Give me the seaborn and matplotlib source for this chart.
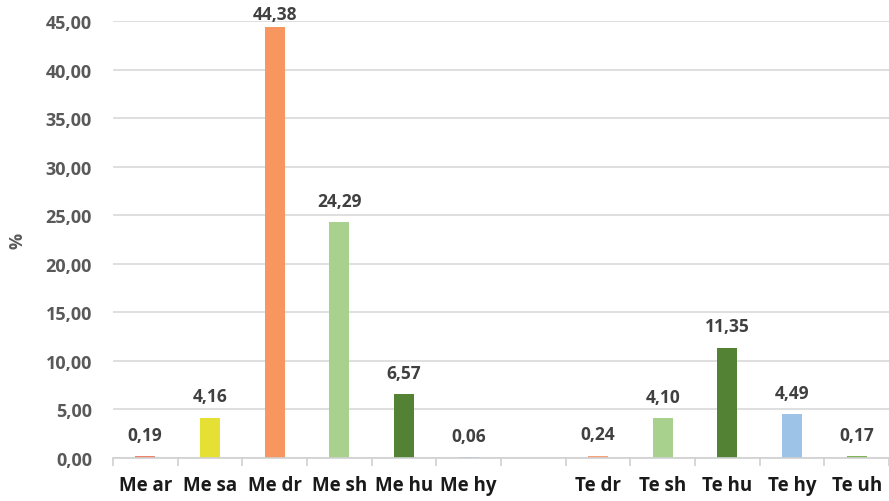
import matplotlib
matplotlib.use("Agg")
import matplotlib.pyplot as plt
from matplotlib.ticker import FuncFormatter, FixedLocator
import seaborn as sns
import pandas as pd

categories = ["Me ar", "Me sa", "Me dr", "Me sh", "Me hu", "Me hy",
              "Te dr", "Te sh", "Te hu", "Te hy", "Te uh"]
values = [0.19, 4.16, 44.38, 24.29, 6.57, 0.06,
          0.24, 4.10, 11.35, 4.49, 0.17]
colors = ["#F2836B", "#E6E034", "#F8965F", "#A9D18E", "#548235", "#8FAADC",
          "#F8A07A", "#A9D18E", "#548235", "#9DC3E6", "#7FB35A"]
# an empty slot separates the two groups
order = categories[:6] + [" "] + categories[6:]

df = pd.DataFrame({"cat": categories, "val": values})

sns.set_theme(style="white")
plt.rcParams["font.family"] = ["Open Sans", "DejaVu Sans"]

fig = plt.figure(figsize=(8.89, 5.02), dpi=100)
ax = fig.add_axes([0.127, 0.0857, 0.873, 0.870])

sns.barplot(data=df, x="cat", y="val", order=order, hue="cat",
            palette=dict(zip(categories, colors)), legend=False,
            width=0.31, saturation=1, linewidth=0, edgecolor="none", ax=ax)

ax.set_ylim(0, 45)
ax.set_xlim(-0.5, len(order) - 0.5)
ax.yaxis.set_major_locator(FixedLocator([i * 5 for i in range(10)]))
ax.yaxis.set_major_formatter(FuncFormatter(lambda v, p: f"{v:.2f}".replace(".", ",")))
ax.grid(axis="y", color="#D9D9D9", linewidth=1.2)
ax.set_axisbelow(True)

for s in ["top", "right", "left"]:
    ax.spines[s].set_visible(False)
ax.spines["bottom"].set_color("#D0D0D0")
ax.spines["bottom"].set_linewidth(1.2)

# category separators below the axis
ax.set_xticks([i - 0.5 for i in range(len(order) + 1)], minor=True)
ax.tick_params(axis="x", which="minor", length=6, color="#D0D0D0", width=1.2, bottom=True)
ax.tick_params(axis="x", which="major", length=0, pad=12)
ax.tick_params(axis="y", length=0, pad=15)

for lab in ax.get_xticklabels():
    lab.set_fontsize(13.5)
    lab.set_fontweight("bold")
    lab.set_color("#1A1A1A")
for lab in ax.get_yticklabels():
    lab.set_fontsize(13)
    lab.set_fontweight("bold")
    lab.set_color("#595959")

ax.set_xlabel("")
ax.set_ylabel("%", fontsize=13, fontweight="bold", color="#595959", labelpad=14)

for c, v in zip(categories, values):
    x = order.index(c)
    off = 9 if v < 42 else 3
    ax.annotate(f"{v:.2f}".replace(".", ","), (x, v), xytext=(0, off),
                textcoords="offset points", ha="center", va="bottom",
                fontsize=12.5, fontweight="bold", color="#404040",
                annotation_clip=False)

fig.savefig("out.png", dpi=100)
